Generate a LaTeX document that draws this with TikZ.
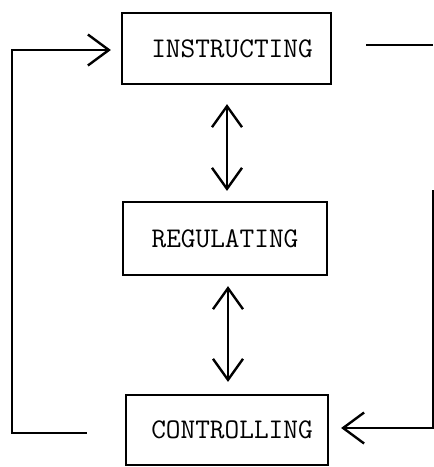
\documentclass[tikz,border=0pt]{standalone}
\usetikzlibrary{arrows.meta}
\begin{document}
\begin{tikzpicture}[x=1pt,y=-1pt,
  box/.style={draw, line width=2.2pt, inner sep=0pt, font=\ttfamily\fontsize{28.5}{28.5}\selectfont},
  conn/.style={line width=2.4pt},
  tipend/.style={-{Straight Barb[length=21pt,width=31pt]}},
  dbl/.style={{Straight Barb[length=21pt,width=30pt]}-{Straight Barb[length=21pt,width=30pt]}}]
\useasboundingbox (0,0) rectangle (434,467);
\node[box, minimum width=209pt, minimum height=71pt] (ins) at (226.5,48.5) {\hspace*{11pt}INSTRUCTING};
\node[box, minimum width=204pt, minimum height=73pt] (reg) at (225,238.5) {REGULATING};
\node[box, minimum width=202pt, minimum height=70pt] (con) at (227,430) {\hspace*{10pt}CONTROLLING};
% vertical double arrows
\coordinate (a1) at ([xshift=0.5pt,yshift=-19pt]ins.south);
\coordinate (a2) at ([yshift=10pt]reg.north);
\draw[conn,dbl] (a1) -- (a1 |- a2);
\coordinate (b1) at ([xshift=3pt,yshift=-10pt]reg.south);
\coordinate (b2) at ([yshift=12pt]con.north);
\draw[conn,dbl] (b1) -- (b1 |- b2);
% left feedback loop
\coordinate (bl) at (12,433);
\draw[conn,tipend] ([xshift=-38pt,yshift=-3pt]con.west) -- (bl) |- ([xshift=-10pt,yshift=-1.5pt]ins.west);
% right loop
\coordinate (tr) at (433,45);
\coordinate (rs) at (433,190);
\draw[conn] ([xshift=34pt,yshift=3.5pt]ins.east) -- (tr);
\draw[conn,tipend] (rs) |- ([xshift=12pt,yshift=2pt]con.east);
\end{tikzpicture}
\end{document}
